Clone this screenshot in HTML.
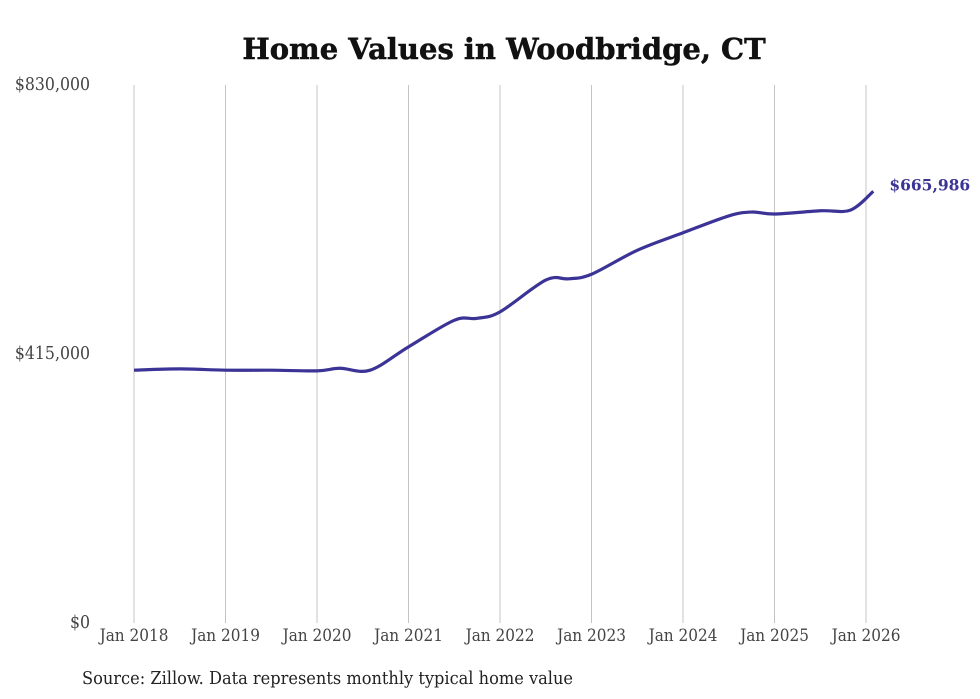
<!DOCTYPE html>
<html><head><meta charset="utf-8"><style>
body{margin:0;background:#fff;width:980px;height:699px;overflow:hidden}
svg{display:block}
</style></head><body>
<svg width="980" height="699">
<text x="504" y="59" text-anchor="middle" font-family="DejaVu Serif, Liberation Serif, serif" font-weight="900" font-size="29" fill="#111" stroke="#111" stroke-width="0.5">Home Values in Woodbridge, CT</text>
<g id="grid"></g>
<g id="yax"></g>
<g id="xax"></g>
<path id="line" fill="none" stroke="#3b3496" stroke-width="3.2" stroke-linejoin="round"/>
<text id="endlbl" font-family="DejaVu Serif, Liberation Serif, serif" font-weight="bold" font-size="15.5" fill="#3b3496"></text>
<text x="82" y="684" font-family="DejaVu Serif, Liberation Serif, serif" font-stretch="condensed" font-size="18" textLength="491" lengthAdjust="spacingAndGlyphs" fill="#222">Source: Zillow. Data represents monthly typical home value</text>
</svg>
<script>
const dates=[2018.0,2018.5,2019.0,2019.5,2020.0,2020.25,2020.58,2021.0,2021.5,2021.75,2022.0,2022.5,2022.75,2023.0,2023.5,2024.0,2024.5,2024.75,2025.0,2025.5,2025.83,2026.08];
const values=[390000,392000,390000,390000,389000,393000,390000,426000,467000,470000,480000,529000,531000,538000,575000,602000,628000,634000,631000,636000,637000,665986];
const xTicks=[2018,2019,2020,2021,2022,2023,2024,2025,2026];
const yTicks=[0,415000,830000];
const yLabels=["$0","$415,000","$830,000"];
const ns="http://www.w3.org/2000/svg";
const X=d=>134+(d-2018)*91.5;
const Y=v=>623-v/830000*538;
function mk(t,a,p,txt){const e=document.createElementNS(ns,t);for(const k in a)e.setAttribute(k,a[k]);if(txt!==undefined)e.textContent=txt;p.appendChild(e);return e;}
const grid=document.getElementById('grid'),xax=document.getElementById('xax'),yax=document.getElementById('yax');
xTicks.forEach(t=>{
 const l=mk('line',{x1:X(t),x2:X(t),y1:85,y2:623,stroke:'#c4c4c4','stroke-width':1},grid);
 
 
 const tx=mk('text',{x:X(t),y:641,'text-anchor':'middle','font-family':'DejaVu Serif, Liberation Serif, serif','font-size':17,'font-stretch':'condensed',fill:'#444'},xax,'Jan '+t);
 
 
});
yTicks.forEach((v,i)=>{
 const tx=mk('text',{x:90,y:Y(v)+5,'text-anchor':'end','font-family':'DejaVu Serif, Liberation Serif, serif','font-size':17.5,'font-stretch':'condensed',fill:'#444'},yax,yLabels[i]);
 
 
});
const pts=dates.map((d,i)=>[X(d),Y(values[i])]);
let p='M'+pts[0][0]+','+pts[0][1];
for(let i=0;i<pts.length-1;i++){
 const p0=pts[Math.max(0,i-1)],p1=pts[i],p2=pts[i+1],p3=pts[Math.min(pts.length-1,i+2)];
 const c1=[p1[0]+(p2[0]-p0[0])/6,p1[1]+(p2[1]-p0[1])/6],c2=[p2[0]-(p3[0]-p1[0])/6,p2[1]-(p3[1]-p1[1])/6];
 p+=' C'+c1[0]+','+c1[1]+' '+c2[0]+','+c2[1]+' '+p2[0]+','+p2[1];
}
document.getElementById('line').setAttribute('d',p);
const last=pts[pts.length-1],el=document.getElementById('endlbl');
el.setAttribute('x',last[0]+16);el.setAttribute('y',last[1]-1);
el.textContent='$'+values[values.length-1].toLocaleString('en-US');
</script>
</body></html>
